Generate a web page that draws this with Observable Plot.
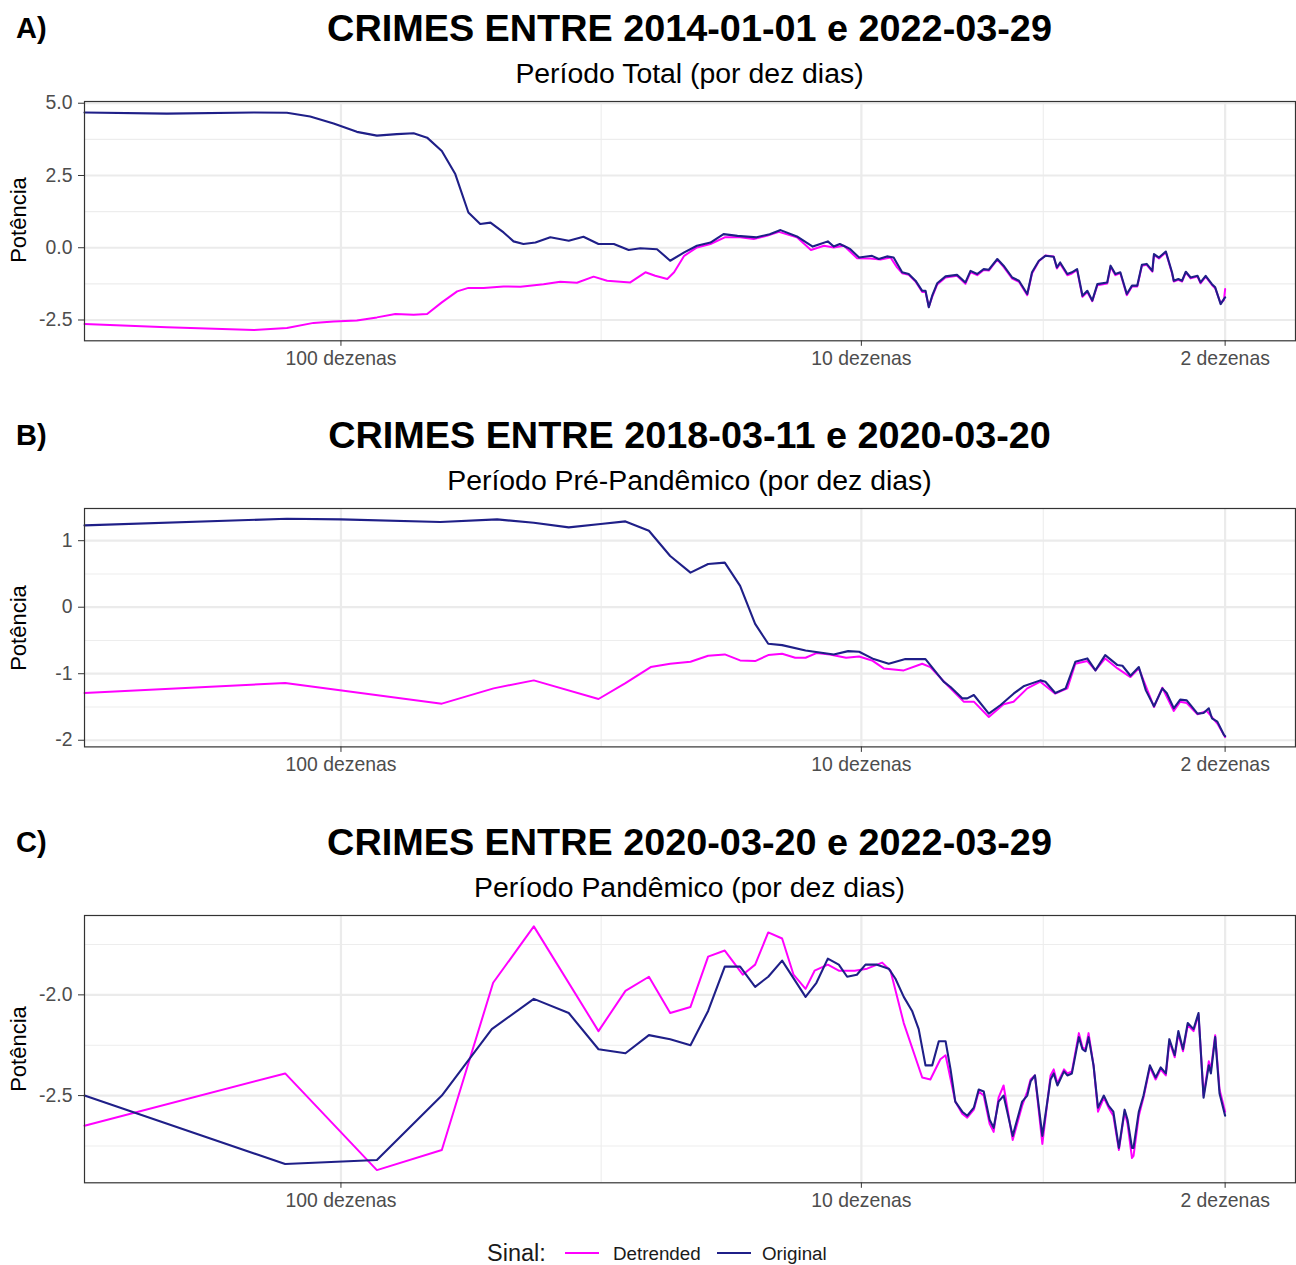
<!DOCTYPE html>
<html>
<head>
<meta charset="utf-8">
<script src="https://cdn.jsdelivr.net/npm/d3@7"></script>
<script src="https://cdn.jsdelivr.net/npm/@observablehq/plot@0.6"></script>
<style>
  body { margin: 0; background: #fff; }
  #fig { position: relative; width: 1296px; height: 1265px; font-family: "Liberation Sans", Arial, sans-serif; color: #000; overflow: hidden; }
  .abs { position: absolute; white-space: nowrap; line-height: 1; }
  .tag { font-weight: bold; font-size: 29px; }
  .title { font-weight: bold; font-size: 37.8px; text-align: center; }
  .subtitle { font-size: 28.4px; text-align: center; }
  .ylab { font-size: 22px; transform: translate(-50%, -50%) rotate(-90deg); }
  .leg { font-size: 18.8px; color: #1a1a1a; }
</style>
</head>
<body>
<div id="fig"></div>
<script>
// Smoothed log-periodogram, power by period (in "dezenas" = tens of days).
// Each entry: [period, power]

// A) 2014-01-01 to 2022-03-29
const totalOriginal = [
  [311,4.68],[216,4.64],[147,4.68],[127,4.67],[114.6,4.54],[103.3,4.30],[93.2,4.01],[85.3,3.88],
  [78.1,3.93],[72.5,3.96],[68.3,3.81],[64.0,3.35],[60.3,2.55],[56.9,1.22],[54.0,0.82],[51.6,0.87],
  [48.7,0.53],[46.6,0.22],[44.6,0.13],[42.3,0.18],[39.6,0.36],[36.5,0.24],[34.2,0.38],[32.0,0.13],
  [29.9,0.13],[28.0,-0.08],[26.6,-0.02],[24.7,-0.05],[23.3,-0.45],[21.9,-0.16],[20.7,0.07],[19.5,0.18],
  [18.4,0.47],[17.3,0.41],[15.9,0.36],[15.0,0.47],[14.3,0.61],[13.3,0.39],[12.4,0.04],[12.0,0.13],
  [11.6,0.22],[11.3,0.04],[11.0,0.13],[10.65,0.01],[10.5,-0.05],[10.1,-0.34],[9.54,-0.28],[9.26,-0.39],
  [8.93,-0.30],[8.67,-0.34],[8.35,-0.85],[8.11,-0.91],[7.87,-1.14],[7.64,-1.49],[7.53,-1.49],[7.42,-2.06],
  [7.31,-1.66],[7.15,-1.23],[6.89,-0.99],[6.55,-0.94],[6.31,-1.20],[6.17,-0.80],[5.99,-0.91],[5.82,-0.74],
  [5.69,-0.76],[5.48,-0.39],[5.33,-0.62],[5.13,-1.03],[4.98,-1.14],[4.80,-1.60],[4.70,-0.85],[4.56,-0.45],
  [4.43,-0.28],[4.27,-0.31],[4.21,-0.68],[4.15,-0.51],[4.02,-0.91],[3.94,-0.85],[3.85,-0.74],[3.76,-1.66],
  [3.68,-1.49],[3.60,-1.83],[3.52,-1.26],[3.37,-1.20],[3.32,-0.62],[3.25,-0.91],[3.18,-0.85],[3.09,-1.60],
  [3.02,-1.31],[2.95,-1.31],[2.89,-0.59],[2.83,-0.56],[2.76,-0.80],[2.74,-0.22],[2.68,-0.34],[2.60,-0.13],
  [2.53,-0.85],[2.51,-1.14],[2.46,-1.08],[2.42,-1.14],[2.38,-0.83],[2.33,-1.03],[2.26,-0.97],[2.23,-1.20],
  [2.18,-0.97],[2.12,-1.26],[2.09,-1.37],[2.04,-1.95],[2.01,-1.77],[2.0,-1.72]
];
const totalDetrended = [
  [311,-2.64],[216,-2.75],[147,-2.85],[127,-2.78],[112.9,-2.60],[103.3,-2.55],[93.2,-2.52],[85.3,-2.41],
  [78.6,-2.29],[72.5,-2.32],[68.3,-2.29],[64.0,-1.89],[59.8,-1.51],[56.9,-1.39],[53.2,-1.39],[48.7,-1.34],
  [45.2,-1.35],[40.8,-1.26],[37.9,-1.18],[35.2,-1.21],[32.7,-1.00],[30.8,-1.14],[27.8,-1.20],[26.0,-0.85],
  [24.9,-0.97],[23.6,-1.08],[22.9,-0.85],[21.9,-0.28],[20.7,0.01],[19.5,0.13],[18.3,0.36],[17.1,0.36],
  [16.1,0.30],[15.2,0.41],[14.4,0.55],[13.3,0.36],[12.5,-0.08],[11.8,0.07],[11.3,0.01],[10.8,0.07],
  [10.2,-0.36],[9.61,-0.37],[9.19,-0.41],[8.79,-0.34],[8.54,-0.68],[8.35,-0.88],[8.11,-0.94],[7.87,-1.17],
  [7.64,-1.53],[7.53,-1.52],[7.42,-2.04],[7.31,-1.70],[7.15,-1.27],[6.89,-1.03],[6.55,-0.97],[6.31,-1.25],
  [6.17,-0.84],[5.99,-0.95],[5.82,-0.77],[5.69,-0.79],[5.48,-0.41],[5.33,-0.66],[5.13,-1.07],[4.98,-1.18],
  [4.80,-1.64],[4.70,-0.89],[4.56,-0.47],[4.43,-0.27],[4.27,-0.30],[4.21,-0.72],[4.15,-0.55],[4.02,-0.95],
  [3.94,-0.89],[3.85,-0.77],[3.76,-1.70],[3.68,-1.53],[3.60,-1.85],[3.52,-1.30],[3.37,-1.24],[3.32,-0.66],
  [3.25,-0.95],[3.18,-0.88],[3.09,-1.64],[3.02,-1.34],[2.95,-1.34],[2.89,-0.62],[2.83,-0.59],[2.76,-0.83],
  [2.74,-0.25],[2.68,-0.37],[2.60,-0.16],[2.53,-0.88],[2.51,-1.17],[2.46,-1.11],[2.42,-1.17],[2.38,-0.85],
  [2.33,-1.06],[2.26,-1.00],[2.23,-1.23],[2.18,-1.00],[2.12,-1.29],[2.09,-1.40],[2.04,-1.92],[2.01,-1.80],
  [2.0,-1.43]
];

// B) 2018-03-11 to 2020-03-20
const preOriginal = [
  [311,1.23],[127,1.33],[100,1.32],[64.4,1.28],[50.1,1.32],[42.6,1.27],[36.5,1.20],[31.7,1.25],
  [28.4,1.29],[25.6,1.15],[23.3,0.77],[21.3,0.52],[19.7,0.65],[18.3,0.67],[17.1,0.32],[16.0,-0.25],
  [15.1,-0.55],[14.2,-0.57],[12.8,-0.65],[11.3,-0.71],[10.6,-0.66],[10.1,-0.67],[9.47,-0.78],[8.86,-0.85],
  [8.23,-0.78],[7.53,-0.78],[6.95,-1.12],[6.74,-1.20],[6.40,-1.37],[6.26,-1.37],[6.08,-1.32],[5.69,-1.60],
  [5.40,-1.47],[5.10,-1.30],[4.88,-1.19],[4.53,-1.10],[4.43,-1.12],[4.24,-1.29],[4.05,-1.22],[3.88,-0.82],
  [3.68,-0.77],[3.55,-0.95],[3.40,-0.72],[3.22,-0.87],[3.15,-0.88],[3.04,-1.03],[2.93,-0.90],[2.84,-1.25],
  [2.74,-1.49],[2.64,-1.22],[2.59,-1.29],[2.51,-1.52],[2.44,-1.39],[2.37,-1.40],[2.26,-1.60],[2.20,-1.59],
  [2.15,-1.52],[2.12,-1.67],[2.07,-1.72],[2.01,-1.92],[2.0,-1.94]
];
const preDetrended = [
  [311,-1.29],[128,-1.14],[64.0,-1.45],[50.9,-1.22],[42.6,-1.10],[32.0,-1.38],[28.4,-1.14],[25.4,-0.90],
  [23.3,-0.85],[21.3,-0.82],[19.7,-0.73],[18.3,-0.71],[17.1,-0.80],[16.0,-0.81],[15.1,-0.72],[14.2,-0.70],
  [13.4,-0.76],[12.8,-0.76],[12.2,-0.69],[11.5,-0.71],[10.7,-0.76],[10.1,-0.74],[9.54,-0.80],[9.06,-0.92],
  [8.29,-0.95],[7.64,-0.85],[7.37,-0.90],[6.84,-1.17],[6.36,-1.42],[6.08,-1.42],[5.69,-1.65],[5.33,-1.46],
  [5.10,-1.42],[4.80,-1.22],[4.53,-1.12],[4.24,-1.30],[4.02,-1.22],[3.88,-0.85],[3.68,-0.81],[3.55,-0.95],
  [3.40,-0.77],[3.22,-0.92],[3.04,-1.05],[2.93,-0.92],[2.74,-1.50],[2.64,-1.21],[2.51,-1.56],[2.44,-1.42],
  [2.37,-1.44],[2.26,-1.61],[2.17,-1.56],[2.07,-1.75],[2.0,-1.95]
];

// C) 2020-03-20 to 2022-03-29
const pandOriginal = [
  [311,-2.50],[128,-2.84],[85.3,-2.82],[64.0,-2.50],[51.3,-2.17],[42.6,-2.02],[36.5,-2.09],[32.0,-2.27],
  [28.4,-2.29],[25.6,-2.20],[23.3,-2.22],[21.3,-2.25],[19.7,-2.08],[18.3,-1.86],[17.1,-1.86],[16.0,-1.96],
  [15.1,-1.91],[14.2,-1.83],[12.8,-2.01],[12.2,-1.94],[11.6,-1.82],[11.05,-1.85],[10.65,-1.91],[10.2,-1.90],
  [9.82,-1.85],[9.33,-1.85],[8.86,-1.87],[8.60,-1.92],[8.29,-2.01],[7.99,-2.08],[7.76,-2.17],[7.53,-2.35],
  [7.31,-2.35],[7.10,-2.23],[6.89,-2.23],[6.74,-2.37],[6.60,-2.53],[6.40,-2.58],[6.26,-2.60],[6.08,-2.56],
  [5.95,-2.47],[5.82,-2.48],[5.67,-2.62],[5.57,-2.66],[5.45,-2.53],[5.33,-2.50],[5.12,-2.70],[4.91,-2.53],
  [4.80,-2.50],[4.73,-2.43],[4.64,-2.40],[4.49,-2.70],[4.33,-2.42],[4.27,-2.39],[4.20,-2.45],[4.08,-2.38],
  [4.02,-2.40],[3.94,-2.39],[3.82,-2.21],[3.76,-2.27],[3.71,-2.28],[3.66,-2.21],[3.58,-2.35],[3.51,-2.56],
  [3.42,-2.50],[3.35,-2.55],[3.28,-2.58],[3.20,-2.76],[3.12,-2.57],[3.08,-2.62],[3.02,-2.76],[3.00,-2.76],
  [2.93,-2.58],[2.87,-2.50],[2.79,-2.35],[2.72,-2.41],[2.66,-2.36],[2.60,-2.39],[2.56,-2.22],[2.50,-2.30],
  [2.46,-2.18],[2.41,-2.27],[2.36,-2.14],[2.30,-2.17],[2.25,-2.09],[2.20,-2.51],[2.15,-2.35],[2.13,-2.39],
  [2.09,-2.21],[2.05,-2.49],[2.0,-2.60]
];
const pandDetrended = [
  [311,-2.65],[128,-2.39],[85.3,-2.87],[64.0,-2.77],[51.0,-1.94],[42.6,-1.66],[32.0,-2.18],[28.4,-1.98],
  [25.6,-1.91],[23.3,-2.09],[21.3,-2.06],[19.7,-1.81],[18.3,-1.78],[16.9,-1.90],[16.0,-1.85],[15.1,-1.69],
  [14.2,-1.72],[13.5,-1.90],[12.8,-1.97],[12.3,-1.88],[11.6,-1.85],[11.05,-1.88],[10.3,-1.88],[9.75,-1.87],
  [9.12,-1.84],[8.79,-1.88],[8.29,-2.14],[7.64,-2.41],[7.37,-2.42],[7.05,-2.32],[6.89,-2.30],[6.60,-2.53],
  [6.40,-2.59],[6.26,-2.61],[6.08,-2.57],[5.95,-2.48],[5.82,-2.50],[5.67,-2.64],[5.57,-2.68],[5.45,-2.51],
  [5.33,-2.45],[5.12,-2.72],[4.91,-2.55],[4.80,-2.48],[4.73,-2.42],[4.64,-2.40],[4.49,-2.74],[4.33,-2.40],
  [4.27,-2.37],[4.20,-2.44],[4.08,-2.37],[4.02,-2.39],[3.94,-2.38],[3.82,-2.19],[3.76,-2.26],[3.71,-2.27],
  [3.66,-2.19],[3.58,-2.35],[3.51,-2.58],[3.42,-2.51],[3.35,-2.56],[3.28,-2.60],[3.20,-2.77],[3.12,-2.58],
  [3.08,-2.64],[3.02,-2.81],[3.00,-2.80],[2.93,-2.60],[2.87,-2.51],[2.79,-2.36],[2.72,-2.42],[2.66,-2.37],
  [2.60,-2.40],[2.56,-2.23],[2.50,-2.31],[2.46,-2.19],[2.41,-2.28],[2.36,-2.15],[2.30,-2.18],[2.25,-2.10],
  [2.20,-2.50],[2.15,-2.33],[2.13,-2.37],[2.09,-2.20],[2.05,-2.47],[2.0,-2.58]
];

// Axis breaks
const periodTicks = [100, 10, 2];
const periodMinor = [31.62, 4.472];
const seriesNames = ["Detrended", "Original"];

const COLORS = { Detrended: "#ff00ff", Original: "#1f1f88" };
const FONT = "'Liberation Sans', Arial, sans-serif";

const panels = [
  { tag: "A)", title: "CRIMES ENTRE 2014-01-01 e 2022-03-29", subtitle: "Período Total (por dez dias)",
    original: totalOriginal, detrended: totalDetrended,
    yDomain: [-3.22, 5.06], yMajor: [-2.5, 0, 2.5, 5], yMinor: [-1.25, 1.25, 3.75], fmt: d => d.toFixed(1),
    frameTop: 100.7, frameBottom: 340, titleTop: 9.5, subTop: 58.5, tagTop: 14 },
  { tag: "B)", title: "CRIMES ENTRE 2018-03-11 e 2020-03-20", subtitle: "Período Pré-Pandêmico (por dez dias)",
    original: preOriginal, detrended: preDetrended,
    yDomain: [-2.10, 1.484], yMajor: [-2, -1, 0, 1], yMinor: [-1.5, -0.5, 0.5], fmt: d => String(d),
    frameTop: 508.3, frameBottom: 746.7, titleTop: 416.5, subTop: 465.5, tagTop: 421 },
  { tag: "C)", title: "CRIMES ENTRE 2020-03-20 e 2022-03-29", subtitle: "Período Pandêmico (por dez dias)",
    original: pandOriginal, detrended: pandDetrended,
    yDomain: [-2.933, -1.606], yMajor: [-2.5, -2.0], yMinor: [-2.75, -2.25, -1.75], fmt: d => d.toFixed(1),
    frameTop: 915, frameBottom: 1182.3, titleTop: 823.5, subTop: 872.5, tagTop: 828 }
];

const fig = document.getElementById("fig");

function addText(cls, text, css) {
  const el = document.createElement("div");
  el.className = "abs " + cls;
  el.textContent = text;
  Object.assign(el.style, css);
  fig.appendChild(el);
  return el;
}

const MT = 10, MB = 40;

for (const p of panels) {
  addText("tag", p.tag, { left: "16px", top: p.tagTop + "px" });
  addText("title", p.title, { left: "84px", width: "1211px", top: p.titleTop + "px" });
  addText("subtitle", p.subtitle, { left: "84px", width: "1211px", top: p.subTop + "px" });
  addText("ylab", "Potência", { left: "19px", top: ((p.frameTop + p.frameBottom) / 2) + "px" });

  const innerH = p.frameBottom - p.frameTop;
  const chart = Plot.plot({
    width: 1296,
    height: innerH + MT + MB,
    marginTop: MT, marginBottom: MB, marginLeft: 84, marginRight: 1,
    style: { fontFamily: FONT, fontSize: "19.4px", background: "transparent", overflow: "visible" },
    x: { type: "log", domain: [311, 1.465] },
    y: { domain: p.yDomain },
    marks: [
      Plot.ruleY(p.yMinor, { stroke: "#ededed", strokeWidth: 1.1 }),
      Plot.ruleX(periodMinor, { stroke: "#ededed", strokeWidth: 1.1 }),
      Plot.ruleY(p.yMajor, { stroke: "#ebebeb", strokeWidth: 2.2 }),
      Plot.ruleX(periodTicks, { stroke: "#ebebeb", strokeWidth: 2.2 }),
      Plot.line(p.detrended, { x: d => d[0], y: d => d[1], stroke: COLORS.Detrended, strokeWidth: 2 }),
      Plot.line(p.original, { x: d => d[0], y: d => d[1], stroke: COLORS.Original, strokeWidth: 2.1 }),
      Plot.frame({ stroke: "#333333", strokeWidth: 1.2 }),
      Plot.axisX(periodTicks, { tickFormat: d => `${d} dezenas`, tickSize: 5.5, tickPadding: 5,
        stroke: "#333333", fill: "#4d4d4d", label: null }),
      Plot.axisY(p.yMajor, { tickFormat: p.fmt, tickSize: 6, tickPadding: 6,
        stroke: "#333333", fill: "#4d4d4d", label: null })
    ]
  });
  chart.style.position = "absolute";
  chart.style.left = "0px";
  chart.style.top = (p.frameTop - MT) + "px";
  fig.appendChild(chart);
}

// Legend: "Sinal:" with one key line per series
addText("leg", "Sinal:", { left: "487px", top: "1242px", fontSize: "23.5px" });
const keyX = { Detrended: 565, Original: 717 };
const labelX = { Detrended: 613, Original: 762 };
for (const s of seriesNames) {
  const key = document.createElementNS("http://www.w3.org/2000/svg", "svg");
  key.setAttribute("width", "34"); key.setAttribute("height", "6");
  key.style.position = "absolute";
  key.style.left = keyX[s] + "px"; key.style.top = "1250px";
  const ln = document.createElementNS("http://www.w3.org/2000/svg", "line");
  ln.setAttribute("x1", "0"); ln.setAttribute("x2", "34");
  ln.setAttribute("y1", "3"); ln.setAttribute("y2", "3");
  ln.setAttribute("stroke", COLORS[s]); ln.setAttribute("stroke-width", "2.2");
  key.appendChild(ln);
  fig.appendChild(key);
  addText("leg", s, { left: labelX[s] + "px", top: "1245px" });
}
</script>
</body>
</html>
